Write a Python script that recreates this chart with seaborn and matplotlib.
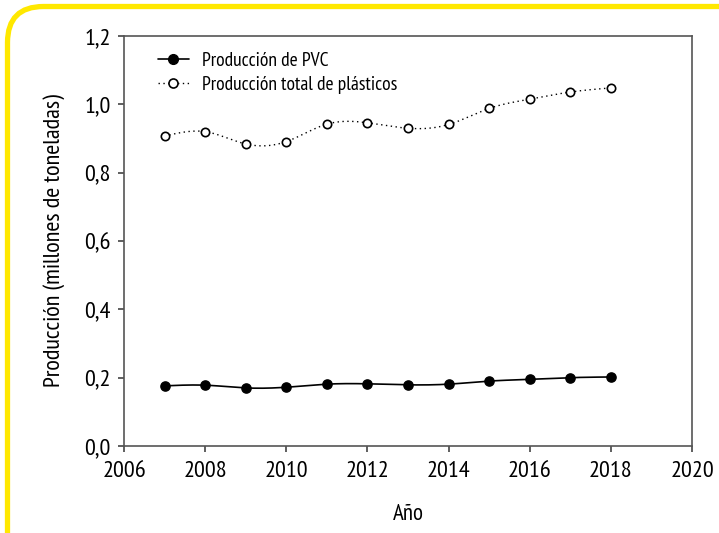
import numpy as np
import pandas as pd
import matplotlib
matplotlib.use("Agg")
import matplotlib.pyplot as plt
from matplotlib.patches import FancyBboxPatch
from matplotlib.lines import Line2D
import seaborn as sns
from matplotlib import font_manager

years = [2007, 2008, 2009, 2010, 2011, 2012, 2013, 2014, 2015, 2016, 2017, 2018]
pvc = [0.176, 0.178, 0.170, 0.172, 0.181, 0.182, 0.179, 0.181, 0.190, 0.195, 0.200, 0.202]
total = [0.907, 0.920, 0.884, 0.891, 0.942, 0.946, 0.930, 0.941, 0.988, 1.015, 1.036, 1.048]
series_names = ["Producción de PVC", "Producción total de plásticos"]
xticks = [2006, 2008, 2010, 2012, 2014, 2016, 2018, 2020]
yticks = [0.0, 0.2, 0.4, 0.6, 0.8, 1.0, 1.2]
ytick_labels = ["0,0", "0,2", "0,4", "0,6", "0,8", "1,0", "1,2"]

sns.set_style("ticks")
names = {f.name for f in font_manager.fontManager.ttflist}
prefs = ["PT Sans Narrow", "Fira Sans Condensed", "Open Sans Condensed", "Roboto Condensed",
         "Archivo Narrow", "Asap Condensed", "Barlow Semi Condensed"]
chosen = [f for f in prefs if f in names][:1]
plt.rcParams["font.family"] = chosen + ["DejaVu Sans"]
plt.rcParams["text.color"] = "black"
plt.rcParams["axes.labelcolor"] = "black"


def natural_spline(x, y, n=400):
    x = np.asarray(x, float); y = np.asarray(y, float)
    k = len(x); h = np.diff(x)
    A = np.zeros((k, k)); b = np.zeros(k)
    A[0, 0] = A[-1, -1] = 1
    for i in range(1, k - 1):
        A[i, i - 1] = h[i - 1]; A[i, i] = 2 * (h[i - 1] + h[i]); A[i, i + 1] = h[i]
        b[i] = 6 * ((y[i + 1] - y[i]) / h[i] - (y[i] - y[i - 1]) / h[i - 1])
    M = np.linalg.solve(A, b)
    xs = np.linspace(x[0], x[-1], n)
    idx = np.clip(np.searchsorted(x, xs) - 1, 0, k - 2)
    x0, x1 = x[idx], x[idx + 1]; hh = x1 - x0
    ys = (M[idx] * (x1 - xs) ** 3 / (6 * hh) + M[idx + 1] * (xs - x0) ** 3 / (6 * hh)
          + (y[idx] / hh - M[idx] * hh / 6) * (x1 - xs) + (y[idx + 1] / hh - M[idx + 1] * hh / 6) * (xs - x0))
    return xs, ys


fig = plt.figure(figsize=(7.19, 5.33), dpi=100)
fig.patch.set_facecolor("white")

# yellow rounded frame (pixel coordinates -> inches)
x0_px, top_px = 7.5, 6.5
border = FancyBboxPatch((x0_px / 100, -0.5), 9.0, (533 - top_px) / 100 + 0.5,
                        boxstyle="round,pad=0,rounding_size=0.36",
                        transform=fig.dpi_scale_trans, facecolor="none",
                        edgecolor="#FFE800", linewidth=3.8, clip_on=False)
fig.patches.append(border)

ax = fig.add_axes([124 / 719, 1 - 446 / 533, 568 / 719, 410 / 533])

df = pd.DataFrame({"Año": years * 2,
                   "valor": pvc + total,
                   "serie": [series_names[0]] * len(years) + [series_names[1]] * len(years)})

xs, ys = natural_spline(years, pvc)
ax.plot(xs, ys, color="black", lw=1.2, zorder=2)
xs2, ys2 = natural_spline(years, total)
ax.plot(xs2, ys2, color="black", lw=1.0, ls=(0, (1, 2.5)), zorder=2)

sns.scatterplot(data=df[df.serie == series_names[0]], x="Año", y="valor", ax=ax,
                color="black", edgecolor="black", s=44, linewidth=1, zorder=3, legend=False)
sns.scatterplot(data=df[df.serie == series_names[1]], x="Año", y="valor", ax=ax,
                color="white", edgecolor="black", s=36, linewidth=1.2, zorder=3, legend=False)

ax.set_xlim(2006, 2020)
ax.set_ylim(0, 1.2)
ax.set_xticks(xticks)
ax.set_xticklabels([str(t) for t in xticks])
ax.set_yticks(yticks)
ax.set_yticklabels(ytick_labels)
ax.tick_params(axis="both", direction="out", length=4.5, width=1.2, color="#444444",
               labelsize=17.5, labelcolor="black")
ax.tick_params(axis="x", pad=6)
ax.tick_params(axis="y", pad=5)
for s in ax.spines.values():
    s.set_color("#555555"); s.set_linewidth(1.2); s.set_visible(True)

ax.set_xlabel("Año", fontsize=16.5)
ax.xaxis.label.set_va("center")
ax.xaxis.set_label_coords(0.5, -(514 - 446) / 410)
ax.set_ylabel("Producción (millones de toneladas)", fontsize=17.5)
ax.yaxis.label.set_va("center")
ax.yaxis.set_label_coords((54 - 124) / 568, 0.5)

handles = [Line2D([0], [0], color="black", lw=1.2, marker="o", markersize=7,
                  markerfacecolor="black"),
           Line2D([0], [0], color="black", lw=1.0, ls=(0, (1, 2.5)), marker="o", markersize=6.5,
                  markerfacecolor="white", markeredgewidth=1.2)]
ax.legend(handles, series_names, loc="upper left", frameon=False, fontsize=14,
          handlelength=1.6, handletextpad=0.7, borderaxespad=0.0, labelspacing=0.3,
          bbox_to_anchor=(26 / 568, 1 - 8 / 410))

fig.savefig("out.png", dpi=100, facecolor="white")
